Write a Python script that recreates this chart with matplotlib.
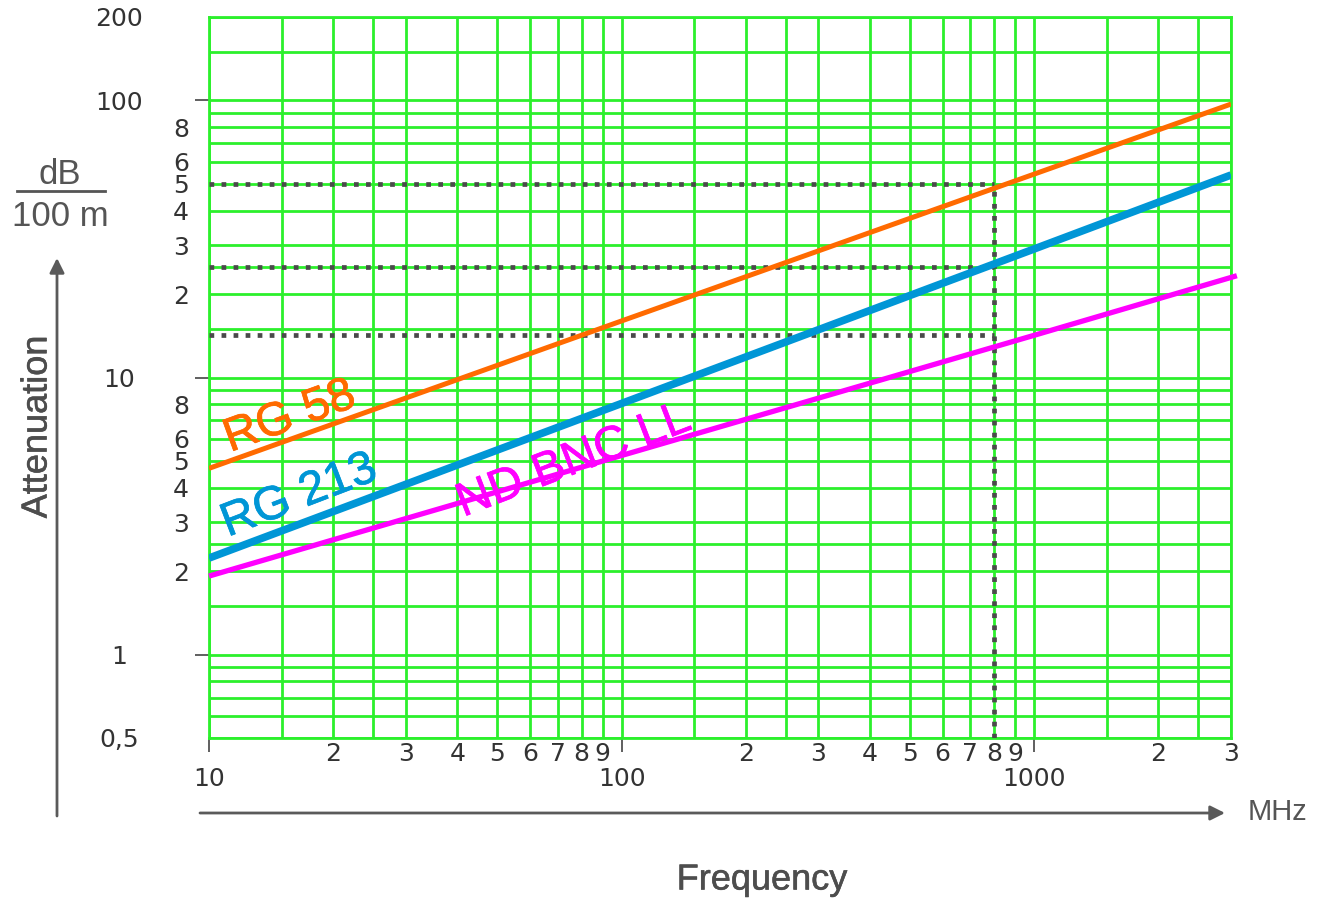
import numpy as np
import matplotlib
matplotlib.use('Agg')
import matplotlib.pyplot as plt
import matplotlib.patheffects as pe
from matplotlib.patches import FancyArrowPatch
from matplotlib.lines import Line2D
from matplotlib.ticker import FixedLocator, FuncFormatter

# attenuation readings (dB / 100 m) vs frequency (MHz)
freq = [10, 100, 1000, 3000]
rg58 = [4.7, 16.0, 54.2, 97.0]
rg213 = [2.23, 8.06, 29.1, 53.8]
nd_freq = [10, 100, 1000, 3100]
nd_bnc_ll = [1.92, 5.23, 14.2, 23.3]

# reading example at 800 MHz
mark_freq = 800
mark_att = [50, 25, 14.2]

x_lim = [10, 3000]
y_lim = [0.5, 200]
x_major = [10, 100, 1000]
y_major = [0.5, 1, 10, 100, 200]
y_major_labels = ['0,5', '1', '10', '100', '200']
grid_mult = [1.5, 2, 2.5, 3, 4, 5, 6, 7, 8, 9]
x_label_mult = [2, 3, 4, 5, 6, 7, 8, 9]
y_label_mult = [2, 3, 4, 5, 6, 8]

x_minor = [m * d for d in (10, 100, 1000) for m in grid_mult if m * d <= x_lim[1]]
y_minor = [m * d for d in (0.1, 1, 10, 100) for m in grid_mult
           if y_lim[0] < m * d < y_lim[1]]

GREEN = '#2cf02c'
DARK = '#333333'
GREY = '#555555'
TXT = ['Liberation Sans', 'DejaVu Sans']


def mant(v):
    e = np.floor(np.log10(v) + 1e-9)
    return v / 10 ** e, 10 ** e


def x_minor_fmt(v, pos):
    m, d = mant(v)
    if abs(m - round(m)) < 1e-6 and round(m) in x_label_mult:
        return str(int(round(m)))
    return ''


def y_minor_fmt(v, pos):
    m, d = mant(v)
    if d in (1, 10) and abs(m - round(m)) < 1e-6 and round(m) in y_label_mult:
        return str(int(round(m)))
    return ''


fig = plt.figure(figsize=(13.17, 9.02), dpi=100)
ax = fig.add_axes([209 / 1317, 1 - 738 / 902, (1231 - 209) / 1317, (738 - 17) / 902])
ax.set_xscale('log')
ax.set_yscale('log')
ax.set_xlim(x_lim)
ax.set_ylim(y_lim)

ax.xaxis.set_major_locator(FixedLocator(x_major))
ax.xaxis.set_major_formatter(FuncFormatter(lambda v, p: str(int(v))))
ax.xaxis.set_minor_locator(FixedLocator(x_minor))
ax.xaxis.set_minor_formatter(FuncFormatter(x_minor_fmt))
ax.yaxis.set_major_locator(FixedLocator(y_major))
ax.yaxis.set_major_formatter(FuncFormatter(lambda v, p: y_major_labels[y_major.index(v)] if v in y_major else ''))
ax.yaxis.set_minor_locator(FixedLocator(y_minor))
ax.yaxis.set_minor_formatter(FuncFormatter(y_minor_fmt))

ax.tick_params(axis='x', which='major', direction='out', length=10, width=1.2,
               color='#444444', pad=11, labelsize=18, labelcolor=DARK)
ax.tick_params(axis='x', which='minor', length=0, pad=3, labelsize=18, labelcolor=DARK)
ax.tick_params(axis='y', which='major', direction='out', length=10, width=1.2,
               color='#444444', pad=55, labelsize=18, labelcolor=DARK)
ax.tick_params(axis='y', which='minor', length=0, pad=20, labelsize=18, labelcolor=DARK)
for lbl in ax.get_yticklabels(which='both'):
    lbl.set_ha('center')
for t in ax.yaxis.get_major_ticks():
    if t.get_loc() in (0.5, 200):
        t.tick1line.set_visible(False)

ax.set_axisbelow(True)
ax.grid(which='both', color=GREEN, lw=2)
for s in ax.spines.values():
    s.set_color(GREEN)
    s.set_linewidth(2)

# dotted reading lines
dot = dict(color='#4a4a4a', lw=3.4, linestyle=(0, (1, 1.55)), dash_capstyle='butt', zorder=3)
for v in mark_att:
    ax.plot([x_lim[0], mark_freq], [v, v], **dot)
ax.plot([mark_freq, mark_freq], [y_lim[0], max(mark_att)], **dot)

ax.plot(freq, rg58, color='#ff6a00', lw=3.6, solid_capstyle='butt', zorder=4)
ax.plot(freq, rg213, color='#0096d6', lw=5.5, solid_capstyle='butt', zorder=4)
ax.plot(nd_freq, nd_bnc_ll, color='#ff00ff', lw=3.8, solid_capstyle='butt',
        clip_on=False, zorder=4)

for x, y, s, c, r in [(11.24, 5.38, 'RG 58', '#ff6a00', 20),
                      (11.1, 2.66, 'RG 213', '#0096d6', 21),
                      (41.3, 3.14, 'ND BNC LL', '#ff00ff', 21)]:
    ax.text(x, y, s, color=c, fontsize=34, family=TXT, rotation=r,
            rotation_mode='anchor', ha='left', va='baseline', zorder=5,
            path_effects=[pe.withStroke(linewidth=0.5, foreground=c)])

# axis arrows and labels
arr = dict(arrowstyle='-|>', mutation_scale=22, lw=2, color='#5a5a5a',
           transform=fig.transFigure, shrinkA=0, shrinkB=0)
fig.add_artist(FancyArrowPatch((57 / 1317, 1 - 816 / 902), (57 / 1317, 1 - 258 / 902), **arr))
fig.add_artist(FancyArrowPatch((200 / 1317, 1 - 813 / 902), (1225 / 1317, 1 - 813 / 902), **arr))

fig.text(0.0456, 1 - 175 / 902, 'dB', fontsize=25, color=GREY, family=TXT, ha='center', va='center')
fig.text(0.0456, 1 - 217 / 902, '100 m', fontsize=25, color=GREY, family=TXT, ha='center', va='center')
fig.add_artist(Line2D([17 / 1317, 105 / 1317], [1 - 191 / 902] * 2, color=GREY, lw=2,
                      transform=fig.transFigure))
fig.text(37 / 1317, 1 - 427 / 902, 'Attenuation', fontsize=26, color='#4d4d4d', family=TXT,
         rotation=90, ha='center', va='center',
         path_effects=[pe.withStroke(linewidth=0.4, foreground='#4d4d4d')])
fig.text(762 / 1317, 1 - 880 / 902, 'Frequency', fontsize=26, color='#4d4d4d', family=TXT,
         ha='center', va='center',
         path_effects=[pe.withStroke(linewidth=0.4, foreground='#4d4d4d')])
fig.text(1277 / 1317, 1 - 812 / 902, 'MHz', fontsize=21, color=GREY, family=TXT,
         ha='center', va='center')

fig.savefig('out.png', dpi=100)
